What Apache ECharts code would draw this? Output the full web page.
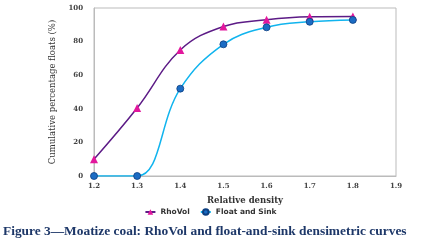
<!DOCTYPE html>
<html>
<head>
<meta charset="utf-8">
<script src="https://cdn.jsdelivr.net/npm/echarts@6/dist/echarts.min.js"></script>
<style>
  html, body { margin: 0; padding: 0; background: #fff; }
  #chart { width: 421px; height: 245px; }
</style>
</head>
<body>
<div id="chart"></div>
<script>
// relative density
const density = [1.2, 1.3, 1.4, 1.5, 1.6, 1.7, 1.8]
// cumulative floats (%)
const rhoVol = [10, 40.5, 75, 89, 93, 94.8, 95]
const floatSink = [0, 0, 52, 78.4, 88.5, 91.8, 92.9]

const serif = '"DejaVu Serif", "Liberation Serif", serif'
const myChart = echarts.init(document.getElementById('chart'))

const toPairs = arr => arr.map((v, i) => [density[i], v])

const option = {
  animation: false,
  title: {
    text: 'Figure 3\u2014Moatize coal: RhoVol and float-and-sink densimetric curves',
    left: 3,
    top: 225,
    padding: 0,
    textStyle: {
      fontFamily: '"Liberation Serif", serif',
      fontSize: 13.4,
      fontWeight: 'bold',
      color: '#1d3768'
    }
  },
  legend: {
    top: 203,
    left: 'center',
    itemWidth: 10,
    itemHeight: 7,
    itemGap: 10,
    textStyle: { fontSize: 7.5, color: '#333', fontFamily: '"DejaVu Sans", sans-serif', fontWeight: 'bold' },
    data: ['RhoVol', 'Float and Sink']
  },
  grid: {
    left: 94,
    right: 25,
    top: 8,
    bottom: 69,
    show: true,
    borderColor: '#bbb',
    borderWidth: 1
  },
  xAxis: {
    type: 'value',
    min: 1.2,
    max: 1.9,
    interval: 0.1,
    name: 'Relative density',
    nameLocation: 'middle',
    nameGap: 20,
    nameTextStyle: { fontFamily: serif, fontSize: 8.5, fontWeight: 'bold', color: '#333' },
    splitLine: { show: false },
    axisLine: { lineStyle: { color: '#bbb' } },
    axisTick: { show: false },
    axisLabel: {
      fontFamily: serif,
      fontSize: 7,
      fontWeight: 'bold',
      color: '#444',
      margin: 7,
      formatter: v => v.toFixed(1)
    }
  },
  yAxis: {
    type: 'value',
    min: 0,
    max: 100,
    interval: 20,
    name: 'Cumulative percentage floats (%)',
    nameLocation: 'middle',
    nameGap: 29,
    nameTextStyle: { fontFamily: serif, fontSize: 8.5, color: '#333' },
    splitLine: { show: false },
    axisLine: { show: true, lineStyle: { color: '#bbb' } },
    axisTick: { show: false },
    axisLabel: { fontFamily: serif, fontSize: 7, fontWeight: 'bold', color: '#444', margin: 11 }
  },
  series: [
    {
      name: 'RhoVol',
      type: 'line',
      smooth: 0.4,
      data: toPairs(rhoVol),
      symbol: 'triangle',
      symbolSize: 8,
      lineStyle: { color: '#5c1b86', width: 1.5 },
      itemStyle: { color: '#e2179d' }
    },
    {
      name: 'Float and Sink',
      type: 'line',
      smooth: 0.4,
      data: toPairs(floatSink),
      symbol: 'circle',
      symbolSize: 7,
      lineStyle: { color: '#11b4ee', width: 1.5 },
      itemStyle: { color: '#1b6cc4', borderColor: '#0d3f80', borderWidth: 0.8 }
    }
  ]
}
myChart.setOption(option, true)
</script>
</body>
</html>
